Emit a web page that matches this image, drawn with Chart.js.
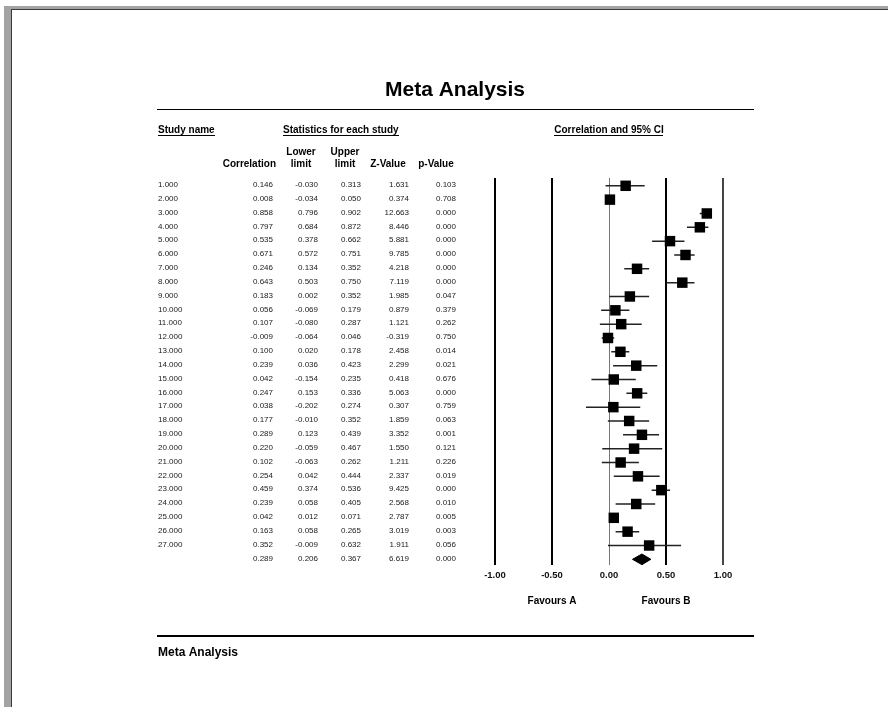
<!DOCTYPE html>
<html><head><meta charset="utf-8">
<script src="https://cdn.jsdelivr.net/npm/chart.js@4/dist/chart.umd.min.js"></script>
<style>html,body{margin:0;padding:0;background:#fff;overflow:hidden;} canvas{display:block;}</style>
</head><body>
<canvas id="c" width="888" height="707"></canvas>
<script>
const studyNames = ['1.000','2.000','3.000','4.000','5.000','6.000','7.000','8.000','9.000','10.000','11.000','12.000','13.000','14.000','15.000','16.000','17.000','18.000','19.000','20.000','21.000','22.000','23.000','24.000','25.000','26.000','27.000'];
const correlation = [0.146,0.008,0.858,0.797,0.535,0.671,0.246,0.643,0.183,0.056,0.107,-0.009,0.100,0.239,0.042,0.247,0.038,0.177,0.289,0.220,0.102,0.254,0.459,0.239,0.042,0.163,0.352];
const lowerLimit = [-0.030,-0.034,0.796,0.684,0.378,0.572,0.134,0.503,0.002,-0.069,-0.080,-0.064,0.020,0.036,-0.154,0.153,-0.202,-0.010,0.123,-0.059,-0.063,0.042,0.374,0.058,0.012,0.058,-0.009];
const upperLimit = [0.313,0.050,0.902,0.872,0.662,0.751,0.352,0.750,0.352,0.179,0.287,0.046,0.178,0.423,0.235,0.336,0.274,0.352,0.439,0.467,0.262,0.444,0.536,0.405,0.071,0.265,0.632];
const zValue = [1.631,0.374,12.663,8.446,5.881,9.785,4.218,7.119,1.985,0.879,1.121,-0.319,2.458,2.299,0.418,5.063,0.307,1.859,3.352,1.550,1.211,2.337,9.425,2.568,2.787,3.019,1.911];
const pValue = [0.103,0.708,0.000,0.000,0.000,0.000,0.000,0.000,0.047,0.379,0.262,0.750,0.014,0.021,0.676,0.000,0.759,0.063,0.001,0.121,0.226,0.019,0.000,0.010,0.005,0.003,0.056];
const summaryCorr = 0.289, summaryLower = 0.206, summaryUpper = 0.367, summaryZ = 6.619, summaryP = 0.000;
const xTicks = [-1, -0.5, 0, 0.5, 1];
const titleText = 'Meta Analysis';
const favoursLeft = 'Favours A', favoursRight = 'Favours B';

const FONT = "'Liberation Sans', Arial, Helvetica, sans-serif";
const sumRow = studyNames.length + 1;

const squarePts = correlation.map((v, i) => ({x: v, y: i + 1}));
const ciPts = [];
lowerLimit.forEach((lo, i) => { ciPts.push({x: lo, y: i + 1}, {x: upperLimit[i], y: i + 1}, {x: null, y: null}); });
const dH = 0.385;
const diamondPts = [
  {x: summaryLower, y: sumRow}, {x: summaryCorr, y: sumRow - dH},
  {x: summaryUpper, y: sumRow}, {x: summaryCorr, y: sumRow + dH},
  {x: summaryLower, y: sumRow}
];

const f3 = v => v.toFixed(3);

const pagePlugin = {
  id: 'page',
  beforeDraw(chart) {
    const ctx = chart.ctx;
    ctx.save();
    ctx.fillStyle = '#fff'; ctx.fillRect(0, 0, 888, 707);
    ctx.fillStyle = '#a3a3a3'; ctx.fillRect(4, 6, 7, 701); ctx.fillRect(4, 6, 884, 3);
    ctx.fillStyle = '#3a3a3a'; ctx.fillRect(11, 9, 1, 698); ctx.fillRect(11, 9, 877, 1);
    ctx.restore();
  },
  afterDraw(chart) {
    const ctx = chart.ctx;
    const ys = chart.scales.y, xs = chart.scales.x;
    ctx.save();
    ctx.textBaseline = 'middle';
    ctx.fillStyle = '#000';
    // Title
    ctx.font = 'bold 21px ' + FONT; ctx.textAlign = 'center';
    ctx.fillText(titleText, 455, 90);
    ctx.fillRect(157, 109, 597, 1);
    // Section headers (underlined)
    ctx.font = 'bold 10px ' + FONT;
    const ul = (txt, x, align) => {
      ctx.textAlign = align; ctx.fillText(txt, x, 130);
      const w = ctx.measureText(txt).width;
      const x0 = align === 'center' ? x - w / 2 : x;
      ctx.fillRect(Math.round(x0), 135, Math.round(w), 1);
    };
    ul('Study name', 158, 'left');
    ul('Statistics for each study', 283, 'left');
    ul('Correlation and 95% CI', xs.getPixelForValue(0), 'center');
    // Column headers
    ctx.textAlign = 'right'; ctx.fillText('Correlation', 276, 164);
    ctx.textAlign = 'center';
    ctx.fillText('Lower', 301, 152); ctx.fillText('limit', 301, 164);
    ctx.fillText('Upper', 345, 152); ctx.fillText('limit', 345, 164);
    ctx.fillText('Z-Value', 388, 164);
    ctx.fillText('p-Value', 436, 164);
    // Rows
    ctx.font = '8px ' + FONT; ctx.fillStyle = '#1a1a1a';
    const row = (y, name, c, lo, up, z, p) => {
      if (name) { ctx.textAlign = 'left'; ctx.fillText(name, 158, y); }
      ctx.textAlign = 'right';
      ctx.fillText(f3(c), 273, y);
      ctx.fillText(f3(lo), 318, y);
      ctx.fillText(f3(up), 361, y);
      ctx.fillText(f3(z), 409, y);
      ctx.fillText(f3(p), 456, y);
    };
    studyNames.forEach((n, i) => row(ys.getPixelForValue(i + 1) - 1, n, correlation[i], lowerLimit[i], upperLimit[i], zValue[i], pValue[i]));
    row(ys.getPixelForValue(sumRow) - 1, '', summaryCorr, summaryLower, summaryUpper, summaryZ, summaryP);
    // Favours labels
    ctx.fillStyle = '#000';
    ctx.font = 'bold 10px ' + FONT; ctx.textAlign = 'center';
    ctx.fillText(favoursLeft, xs.getPixelForValue(-0.5), 601.5);
    ctx.fillText(favoursRight, xs.getPixelForValue(0.5), 601.5);
    // Footer
    ctx.fillRect(157, 635, 597, 2);
    ctx.font = 'bold 12px ' + FONT; ctx.textAlign = 'left';
    ctx.fillText(titleText, 158, 653);
    ctx.restore();
  }
};

new Chart(document.getElementById('c'), {
  type: 'scatter',
  data: {
    datasets: [
      {label: 'Correlation', data: squarePts, order: 0, pointStyle: 'rect', pointRadius: 7.4, pointBorderWidth: 0, backgroundColor: '#000', borderColor: '#000', showLine: false},
      {label: 'Summary', data: diamondPts, order: 0, showLine: true, fill: 'shape', backgroundColor: '#000', borderColor: '#000', borderWidth: 1, pointRadius: 0, tension: 0},
      {label: '95% CI', data: ciPts, order: 1, showLine: true, spanGaps: false, borderColor: '#222', borderWidth: 1.5, pointRadius: 0, fill: false}
    ]
  },
  options: {
    responsive: false, animation: false, devicePixelRatio: 1, events: [],
    layout: {padding: {left: 495, right: 165, top: 178, bottom: 122}},
    plugins: {legend: {display: false}, tooltip: {enabled: false}, title: {display: false}},
    scales: {
      x: {
        type: 'linear', min: -1, max: 1,
        afterBuildTicks: s => { s.ticks = xTicks.map(v => ({value: v})); },
        afterFit: s => { s.height = 20; },
        border: {display: false},
        grid: {
          drawTicks: false, drawOnChartArea: true,
          color: c => c.tick && c.tick.value === 0 ? '#777' : (c.tick && c.tick.value === 1 ? '#444' : '#000'),
          lineWidth: c => c.tick && c.tick.value === 0 ? 1 : 2
        },
        ticks: {padding: 5, color: '#111', font: {family: FONT, size: 9.5, weight: 'bold'}, callback: v => Number(v).toFixed(2), maxRotation: 0, autoSkip: false}
      },
      y: {type: 'linear', reverse: true, min: 0.436, max: 28.41, display: false}
    }
  },
  plugins: [pagePlugin]
});
</script>
</body></html>
